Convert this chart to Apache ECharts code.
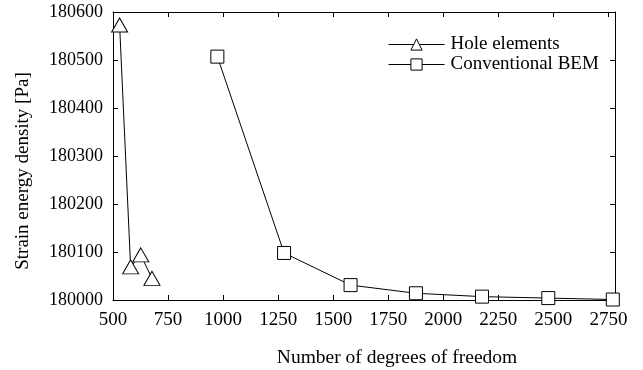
<!DOCTYPE html>
<html>
<head>
<meta charset="utf-8">
<script src="https://cdn.jsdelivr.net/npm/echarts@6/dist/echarts.min.js"></script>
<style>
  html, body { margin: 0; padding: 0; background: #fff; }
  #chart { width: 643px; height: 370px; }
</style>
</head>
<body>
<div id="chart"></div>
<script>
// data
var holeDof = [530, 580, 626, 677];
var holeSed = [180573, 180069, 180094, 180045];
var bemDof = [974, 1277, 1579, 1876, 2176, 2477, 2770];
var bemSed = [180507, 180098, 180031, 180014, 180007, 180004, 180001];

var font = 'Liberation Serif';

function pairs(xs, ys) {
    var res = [];
    for (var i = 0; i < xs.length; i++) {
        res.push([xs[i], ys[i]]);
    }
    return res;
}

function plain(v) {
    return String(v);
}

function mkX(pos, show) {
    return {
        type: 'value', position: pos, min: 500, max: 2780, interval: 250,
        name: show ? 'Number of degrees of freedom' : '',
        nameLocation: 'middle', nameGap: 48,
        nameTextStyle: { fontFamily: font, fontSize: 19.5, color: '#000', padding: [0, 0, 0, 66] },
        axisLine: { show: true, onZero: false, lineStyle: { color: '#000', width: 1 } },
        axisTick: { show: true, inside: true, length: 5, lineStyle: { color: '#000' } },
        axisLabel: { show: show, fontFamily: font, fontSize: 19, color: '#000', margin: 11,
            showMaxLabel: false, formatter: plain },
        splitLine: { show: false }
    };
}

function mkY(pos, show) {
    return {
        type: 'value', position: pos, min: 180000, max: 180600, interval: 100,
        name: show ? 'Strain energy density [Pa]' : '',
        nameLocation: 'middle', nameGap: 80, nameRotate: 90,
        nameTextStyle: { fontFamily: font, fontSize: 19, color: '#000', padding: [0, 30, 0, 0] },
        axisLine: { show: true, onZero: false, lineStyle: { color: '#000', width: 1 } },
        axisTick: { show: true, inside: true, length: 5, lineStyle: { color: '#000' } },
        axisLabel: { show: show, fontFamily: font, fontSize: 18, color: '#000', margin: 10,
            formatter: plain },
        splitLine: { show: false }
    };
}

var myChart = echarts.init(document.getElementById('chart'));
myChart.setOption({
    animation: false,
    grid: { left: 113, right: 28, top: 12, bottom: 70, containLabel: false, outerBoundsMode: 'none' },
    legend: {
        orient: 'vertical', left: 383, top: 30, itemGap: 1,
        itemWidth: 56, itemHeight: 14,
        lineStyle: { width: 1 },
        itemStyle: { borderWidth: 1 },
        textStyle: { fontFamily: font, fontSize: 19, color: '#000', padding: [0, 0, 0, 1] },
        data: ['Hole elements', 'Conventional BEM']
    },
    xAxis: [mkX('bottom', true), mkX('top', false)],
    yAxis: [mkY('left', true), mkY('right', false)],
    series: [
        {
            name: 'Hole elements', type: 'line',
            data: pairs(holeDof, holeSed),
            symbol: 'triangle', symbolSize: [16, 14],
            itemStyle: { color: '#fff', borderColor: '#000', borderWidth: 1 },
            lineStyle: { color: '#000', width: 1 }
        },
        {
            name: 'Conventional BEM', type: 'line',
            data: pairs(bemDof, bemSed),
            symbol: 'rect', symbolSize: 13,
            itemStyle: { color: '#fff', borderColor: '#000', borderWidth: 1 },
            lineStyle: { color: '#000', width: 1 }
        }
    ]
});
</script>
</body>
</html>
